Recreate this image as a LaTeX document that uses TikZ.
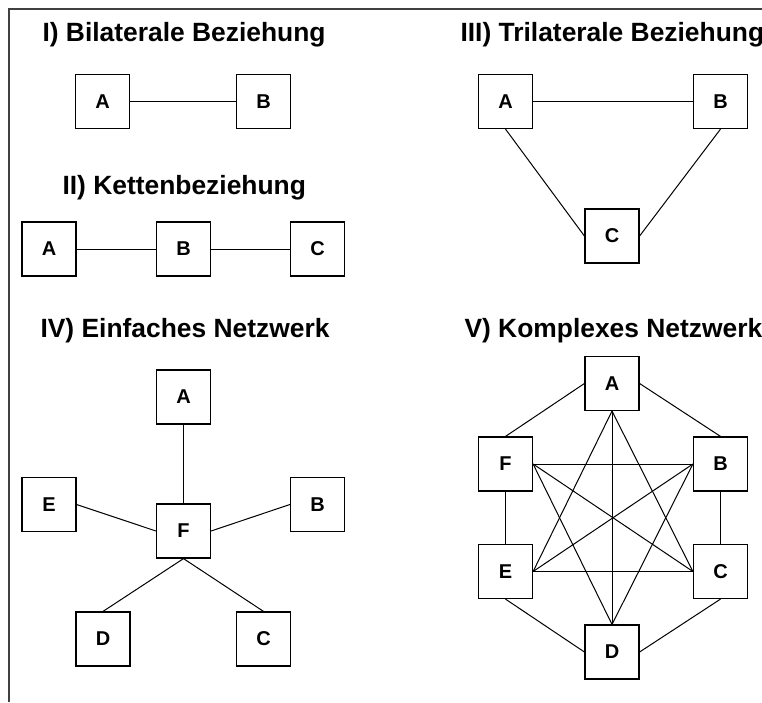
\documentclass[tikz,border=0pt]{standalone}
\usepackage{fontspec}
\setmainfont{Liberation Sans}
\begin{document}
\begin{tikzpicture}[x=0.75pt, y=-0.75pt, line width=0.75pt,
    box/.style={draw, line width=0.9pt, minimum size=40.5pt, inner sep=0pt,
      font=\fontsize{15}{17}\selectfont\bfseries},
    heading/.style={anchor=base west, inner sep=0pt,
      font=\fontsize{19.8}{22}\selectfont\bfseries}]
  \useasboundingbox (0,0) rectangle (762,702);
  \draw[line width=1.5pt, black!75] (9,702) -- (9,9) -- (762,9);

  % I
  \node[heading] (t1) at (42,42) {I) Bilaterale Beziehung};
  \node[box] (a1) at (102.5,101.5) {A};
  \node[box] (b1) at (263.5,101.5) {B};
  \path (a1) edge (b1);

  % II
  \node[heading] (t2) at (62,195) {II) Kettenbeziehung};
  \node[box] (a2) at (49,249) {A};
  \node[box] (b2) at (183.5,249) {B};
  \node[box] (c2) at (317.5,249) {C};
  \path (a2) edge (b2);
  \path (b2) edge (c2);

  % III
  \node[heading] (t3) at (460,42) {III) Trilaterale Beziehung};
  \node[box] (a3) at (505.5,101.5) {A};
  \node[box] (b3) at (720.5,101.5) {B};
  \node[box] (c3) at (612,236) {C};
  \path (a3) edge (b3);
  \path (a3.south) edge (c3.west);
  \path (b3.south) edge (c3.east);

  % IV
  \node[heading] (t4) at (40,337) {IV) Einfaches Netzwerk};
  \node[box] (a4) at (183.5,397) {A};
  \node[box] (f4) at (183.5,531) {F};
  \node[box] (e4) at (49,504.5) {E};
  \node[box] (b4) at (317.5,504.5) {B};
  \node[box] (d4) at (103,639) {D};
  \node[box] (c4) at (263.5,639) {C};
  \path (a4) edge (f4);
  \path (e4.east) edge (f4.west);
  \path (b4.west) edge (f4.east);
  \path (d4.north) edge (f4.south);
  \path (c4.north) edge (f4.south);

  % V
  \node[heading] (t5) at (464,337) {V) Komplexes Netzwerk};
  \node[box] (a5) at (612,383.5) {A};
  \node[box] (f5) at (505.5,464) {F};
  \node[box] (b5) at (720.5,464) {B};
  \node[box] (e5) at (505.5,571.5) {E};
  \node[box] (c5) at (720.5,571.5) {C};
  \node[box] (d5) at (612,652) {D};
  \path (a5.west) edge (f5.north);
  \path (a5.east) edge (b5.north);
  \path (f5) edge (e5);
  \path (b5) edge (c5);
  \path (e5.south) edge (d5.west);
  \path (c5.south) edge (d5.east);
  \path (a5.south) edge (d5.north);
  \path (a5.south) edge (e5.east);
  \path (a5.south) edge (c5.west);
  \path (f5.east) edge (b5.west);
  \path (f5.east) edge (c5.west);
  \path (f5.east) edge (d5.north);
  \path (b5.west) edge (e5.east);
  \path (b5.west) edge (d5.north);
  \path (e5.east) edge (c5.west);
\end{tikzpicture}
\end{document}
